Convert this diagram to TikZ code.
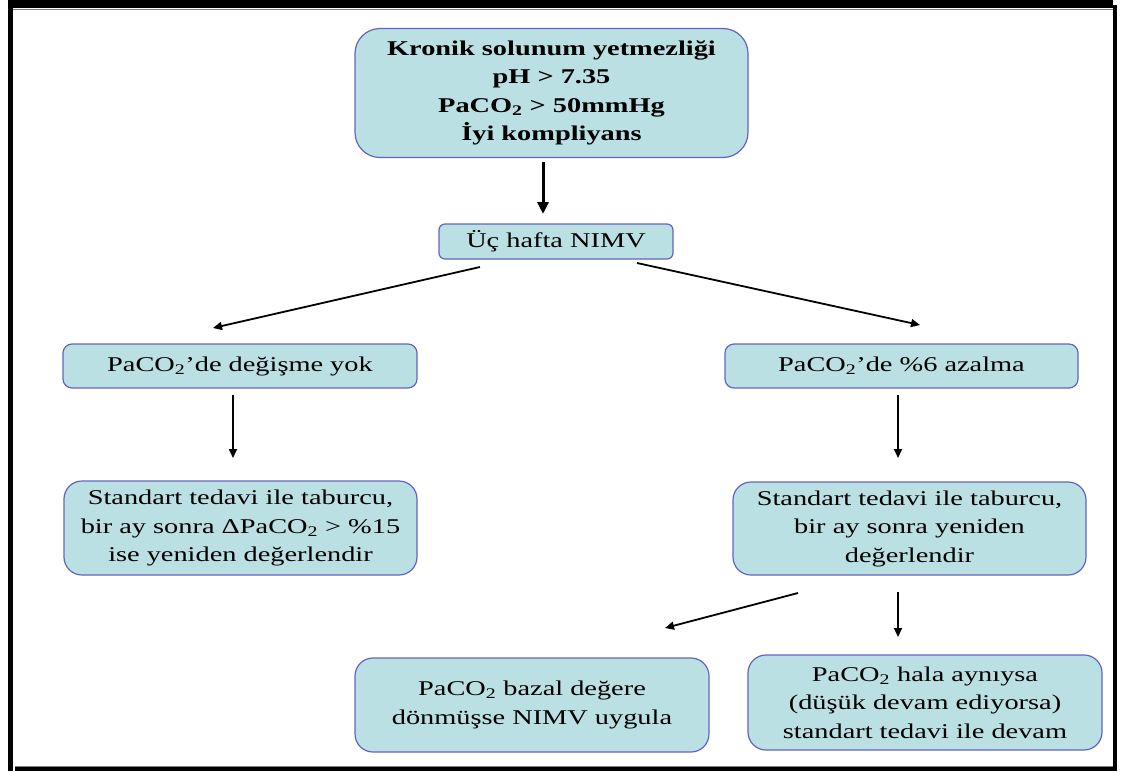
\documentclass[tikz,border=0pt]{standalone}
\usepackage{fontspec}
\setmainfont{Liberation Serif}[FakeStretch=1.35]
\usetikzlibrary{arrows.meta}
\definecolor{boxfill}{RGB}{187,224,227}
\definecolor{boxline}{RGB}{100,100,190}
\tikzset{
  flowbox/.style={draw=boxline, fill=boxfill, line width=1.2pt, align=center,
    inner sep=0pt, font=\fontsize{21}{28.5}\selectfont},
  thinarrow/.style={draw=black, line width=1.8pt, -{Triangle[length=9pt,width=8pt]}},
  thickarrow/.style={draw=black, line width=3pt, -{Triangle[length=12pt,width=11pt]}},
  framebar/.style={fill=black, draw=none}
}
\begin{document}
\begin{tikzpicture}[x=1pt,y=-1pt]
\useasboundingbox (0,0) rectangle (1121,771);
% frame
\fill[white] (0,0) rectangle (1121,771);
\path[framebar] (8,0) rectangle (1113,8);
\path[framebar] (8,5) rectangle (13,771);
\path[framebar] (1113,5) rectangle (1117,767);
\path[framebar] (15,767) rectangle (1117,771);
\draw[gray, line width=0.8pt] (13,9) -- (1113,9);
\draw[gray, line width=0.8pt] (15,766) -- (1113,766);

% boxes
\node[flowbox, minimum width=393pt, minimum height=129pt, rounded corners=25pt,
  font=\fontsize{21}{28.5}\selectfont\bfseries] (top) at (551.5,93)
  {Kronik solunum yetmezliği\\pH > 7.35\\PaCO\textsubscript{2} > 50mmHg\\İyi kompliyans};
\node[flowbox, minimum width=234pt, minimum height=35pt, rounded corners=6pt] (nimv) at (556,241.5)
  {Üç hafta NIMV};
\node[flowbox, minimum width=354pt, minimum height=44pt, rounded corners=9pt] (nochg) at (240,366)
  {PaCO\textsubscript{2}’de değişme yok};
\node[flowbox, minimum width=353pt, minimum height=44pt, rounded corners=9pt] (dec) at (901.5,366)
  {PaCO\textsubscript{2}’de \%6 azalma};
\node[flowbox, minimum width=353pt, minimum height=94pt, rounded corners=18pt] (lstd) at (240.5,528)
  {Standart tedavi ile taburcu,\\bir ay sonra ΔPaCO\textsubscript{2} > \%15\\ise yeniden değerlendir};
\node[flowbox, minimum width=353pt, minimum height=93pt, rounded corners=18pt] (rstd) at (909.5,528.5)
  {Standart tedavi ile taburcu,\\bir ay sonra yeniden\\değerlendir};
\node[flowbox, minimum width=354pt, minimum height=94pt, rounded corners=18pt] (bazal) at (532,705)
  {PaCO\textsubscript{2} bazal değere\\dönmüşse NIMV uygula};
\node[flowbox, minimum width=354pt, minimum height=95pt, rounded corners=18pt] (same) at (925,702.5)
  {PaCO\textsubscript{2} hala aynıysa\\(düşük devam ediyorsa)\\standart tedavi ile devam};

% connector end points
\coordinate (a1s) at (543,162);
\coordinate (a1e) at (543,214);
\coordinate (a2s) at (480,267);
\coordinate (a2e) at (213,328);
\coordinate (a3s) at (637,263);
\coordinate (a3e) at (920,325);
\coordinate (a4s) at (233,395);
\coordinate (a4e) at (233,458);
\coordinate (a5s) at (898,395);
\coordinate (a5e) at (898,458);
\coordinate (a6s) at (798,593);
\coordinate (a6e) at (665,628);
\coordinate (a7s) at (898,592);
\coordinate (a7e) at (898,637);

\draw[thickarrow] (a1s) -- (a1e);
\draw[thinarrow] (a2s) -- (a2e);
\draw[thinarrow] (a3s) -- (a3e);
\draw[thinarrow] (a4s) -- (a4e);
\draw[thinarrow] (a5s) -- (a5e);
\draw[thinarrow] (a6s) -- (a6e);
\draw[thinarrow] (a7s) -- (a7e);
\end{tikzpicture}
\end{document}
